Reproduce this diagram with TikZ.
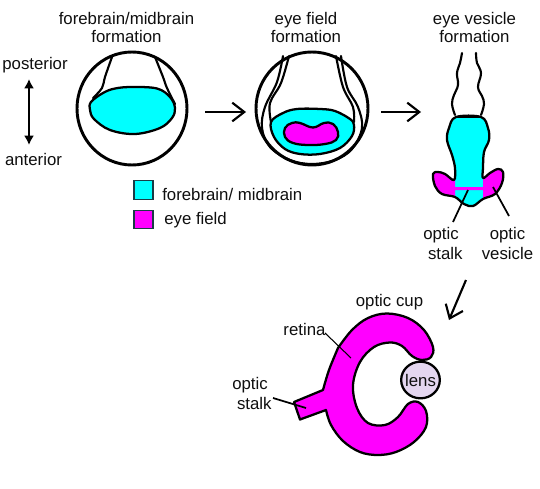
\documentclass[tikz,border=0pt]{standalone}
\usepackage{fontspec}
\setmainfont{Liberation Sans}
\usetikzlibrary{arrows.meta,shapes.geometric}
\definecolor{brainc}{RGB}{0,255,255}
\definecolor{fieldc}{RGB}{255,0,255}
\definecolor{lensc}{RGB}{228,214,240}
\definecolor{inkc}{RGB}{15,15,15}
\definecolor{keyedge}{RGB}{25,60,70}
\tikzset{
  label text/.style={font=\fontsize{12.6}{13.5}\selectfont, align=center, text=inkc, inner sep=0pt},
  outline/.style={draw=black, line width=1.7pt, line join=round},
  embryo/.style={draw=black, line width=2.2pt},
  thin wall/.style={draw=black, line width=1.6pt, line cap=round},
  pointer/.style={draw=black, line width=1.3pt},
  key box/.style={draw=keyedge, line width=1pt, minimum width=14.2pt, minimum height=13.8pt, inner sep=0pt},
  step arrow/.style={draw=black, line width=1.6pt, -{Straight Barb[length=9pt,width=14pt,line width=1.6pt]}},
}
% body and optic lobes of the vesicle stage, as one closed contour
\newcommand{\vesiclepath}{plot[smooth cycle,tension=0.6] coordinates {(456,117) (449,128) (447,140) (452,155) (455,168) (454,180) (445,174) (438,172) (433,174) (435,186) (442,194) (455,197) (464,204) (473,206) (483,199) (495,194) (502,183) (503,172) (498,169) (490,173) (483,178) (483,168) (484,152) (489,140) (488,128) (481,117)}}
\begin{document}
\begin{tikzpicture}[x=0.75pt,y=-0.75pt]
\useasboundingbox (0,0) rectangle (540,489);
\fill[white] (0,0) rectangle (540,489);

% forebrain / midbrain stage
\draw[outline,fill=brainc] plot[smooth cycle,tension=0.6] coordinates {(91,102) (103,93) (115,88.5) (132,87) (157,88.5) (170,97) (175,108) (172,118) (160,128) (135,134) (110,130) (94,119) (90,110)};
\draw[thin wall] plot[smooth,tension=0.6] coordinates {(112,57) (105,77) (102,88) (93,98)};
\draw[thin wall] plot[smooth,tension=0.6] coordinates {(155,57) (163,77) (167,88) (175,104)};
\draw[embryo] (132,108.5) ellipse [x radius=55, y radius=56.5];

% eye field stage
\draw[outline,fill=brainc] plot[smooth cycle,tension=0.6] coordinates {(271,122) (283,113) (297,109) (320,109) (335,111) (350,119) (354,125) (352,136) (340,148) (320,154) (300,154) (285,149) (274,137)};
\draw[outline,fill=fieldc] plot[smooth cycle,tension=0.7] coordinates {(285,128) (292,123) (300,123) (313,127.5) (324,123) (333,124) (338,132) (336,140) (325,144) (308,145) (293,143) (285,137)};
\draw[thin wall] plot[smooth,tension=0.6] coordinates {(283,56) (277,82) (265,107) (262,128) (270,147) (290,160) (312,164) (335,160) (352,149) (362,128) (358,107) (347,87) (341,56)};
\draw[thin wall] plot[smooth,tension=0.6] coordinates {(289,56) (281,83) (270,103) (271,122)};
\draw[thin wall] plot[smooth,tension=0.6] coordinates {(336,56) (343,87) (353,107) (354,122)};
\draw[embryo] (312,108.5) ellipse [x radius=56, y radius=56.5];

% eye vesicle stage
\fill[brainc] \vesiclepath;
\begin{scope}
  \clip (420,170) rectangle (455,210) (483,165) rectangle (515,210) (455,187) rectangle (483,190);
  \fill[fieldc] \vesiclepath;
\end{scope}
\draw[outline] \vesiclepath;
\draw[thin wall] plot[smooth,tension=0.7] coordinates {(462,53) (460,63) (457,73) (458,85) (454,95) (452,104) (455,115)};
\draw[thin wall] plot[smooth,tension=0.7] coordinates {(476,53) (477,63) (481,73) (478,87) (482,96) (484,104) (481,115)};
\draw[line width=2.2pt,black] (456,117) -- (481,117);

% optic cup
\draw[outline,fill=fieldc]
  plot[smooth,tension=0.6] coordinates {(338,348) (352,330) (368,318) (387,313.5) (408,318) (424,330) (433,347) (431,357) (422,360) (412,356) (402,346) (390,342.5) (374,347) (360,362) (353,385) (357,408) (368,423) (385,425) (398,417) (408,404) (418,402) (426,411) (426,427) (414,442) (396,452) (378,455) (360,452) (343,441) (331,425) (326,410)}
  -- (300,419.5) -- (294,402) -- (323,390)
  -- plot[smooth,tension=0.6] coordinates {(323,390) (329,370) (338,348)} -- cycle;
\node[ellipse,draw=black,line width=1.7pt,fill=lensc,label text,inner sep=-3pt,minimum width=29pt,minimum height=27.5pt] (lens) at (420.5,380) {lens};

% staging labels
\node[label text] (t1) at (126.5,27) {forebrain/midbrain\\formation};
\node[label text] (t2) at (306,27) {eye field\\formation};
\node[label text] (t3) at (474.5,27) {eye vesicle\\formation};
\node[label text] (post) at (35,65) {posterior};
\node[label text] (ant) at (33.5,159) {anterior};
\coordinate (axisA) at (29,79);
\coordinate (axisB) at (29,145);
\draw[draw=black,line width=1.5pt,{Latex[length=7pt,width=7.5pt]}-{Latex[length=7pt,width=7.5pt]}] (axisA) -- (axisB);

% stage arrows
\coordinate (a1s) at (205,112); \coordinate (a1e) at (246,112);
\coordinate (a2s) at (381,112); \coordinate (a2e) at (421,112);
\coordinate (a3s) at (466,280); \coordinate (a3e) at (449,320);
\draw[step arrow] (a1s) -- (a1e);
\draw[step arrow] (a2s) -- (a2e);
\draw[step arrow] (a3s) -- (a3e);

% colour key
\node[key box,fill=brainc] (k1) at (143.5,190) {};
\node[key box,fill=fieldc] (k2) at (143.5,219.5) {};
\node[label text,anchor=west] (k1t) at (162,194) {forebrain/ midbrain};
\node[label text,anchor=west] (k2t) at (164,220) {eye field};

% vesicle labels
\node[label text] (stalk1) at (441,243) {optic\\[1.5pt]\hspace{6.5pt}stalk};
\node[label text] (ves) at (507.5,243) {optic\\[1.5pt]vesicle};
\coordinate (stalk1a) at (468,190);
\coordinate (stalk1b) at (453,222);
\coordinate (vesa) at (493,187);
\coordinate (vesb) at (509,216);
\draw[pointer] (stalk1a) -- (stalk1b);
\draw[pointer] (vesa) -- (vesb);

% optic cup labels
\node[label text] (cup) at (389.5,302) {optic cup};
\node[label text] (ret) at (304.5,329) {retina};
\node[label text] (stalk2) at (250,393) {optic\\[1.5pt]\hspace{6.5pt}stalk};
\coordinate (reta) at (325,333);
\coordinate (retb) at (351,358);
\coordinate (st2a) at (273,398);
\coordinate (st2b) at (306,408);
\draw[draw=black,line width=0.8pt] (reta) -- (retb);
\draw[pointer] (st2a) -- (st2b);
\end{tikzpicture}
\end{document}
